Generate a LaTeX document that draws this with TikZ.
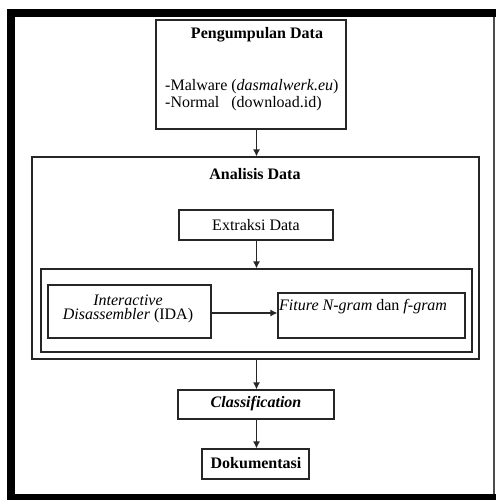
\documentclass[tikz,border=0pt]{standalone}
\usepackage{fontspec}
\setmainfont{Liberation Serif}
\usetikzlibrary{arrows.meta,calc}
\tikzset{
  box/.style={draw=black!85,line width=1.2pt,rectangle,inner sep=0pt},
  txt/.style={inner sep=0pt,font=\fontsize{16}{19}\selectfont,text=black},
  arr/.style={draw=black!85,line width=1.2pt,-{Latex[length=7pt,width=7pt]}},
}
\newcommand{\boxat}[6]{\node[box,minimum width=#4-#2,minimum height=#5-#3] (#1) at ({(#2+#4)/2},{(#3+#5)/2}) {#6};}
\begin{document}
\begin{tikzpicture}[x=1pt,y=-1pt]
\useasboundingbox (0,0) rectangle (496,500);
% outer frame
\fill[black] (7,9) rectangle (15,500);
\fill[black] (7,9) rectangle (496,17);
\fill[black] (7,494) rectangle (496,500);
\draw[black!70,line width=1.2pt] (494,17) -- (494,494);
% boxes
\boxat{pd}{156}{20}{346}{129}{}
\boxat{an}{32}{157}{479}{359}{}
\boxat{ex}{179}{210}{333}{240}{}
\boxat{inner}{41}{269}{472}{352}{}
\boxat{ida}{48}{285}{211}{338}{}
\boxat{fit}{278}{293}{465}{338}{}
\boxat{cl}{178}{390}{334}{419}{}
\boxat{dok}{202}{449}{309}{479}{}
% texts
\node[txt,font=\fontsize{16}{19}\selectfont\bfseries] (tpd) at (257,35) {Pengumpulan Data};
\node[txt,anchor=west] (tmal) at (165,87) {-Malware (\textit{dasmalwerk.eu})};
\node[txt,anchor=west] (tnor) at (165,104) {-Normal\ \ \ (download.id)};
\node[txt,font=\fontsize{16}{19}\selectfont\bfseries] (tan) at (255,174) {Analisis Data};
\node[txt] (tex) at (256,225) {Extraksi Data};
\node[txt] (tida1) at (128,300) {\textit{Interactive}};
\node[txt] (tida2) at (128,316) {\textit{Disassembler} (IDA)};
\node[txt,anchor=west] (tfit) at (279,307) {\textit{Fiture N-gram} dan \textit{f-gram}};
\node[txt,font=\fontsize{16}{19}\selectfont\bfseries\itshape] (tcl) at (256,404) {Classification};
\node[txt,font=\fontsize{16}{19}\selectfont\bfseries] (tdok) at (256,463) {Dokumentasi};
% arrows
\coordinate (ax) at (256.5,0);
\draw[arr] (pd.south -| ax) -- (an.north -| ax);
\draw[arr] (ex.south -| ax) -- (inner.north -| ax);
\draw[arr] (ida.east |- 0,313) -- (fit.west |- 0,313);
\draw[arr] (an.south -| ax) -- (cl.north -| ax);
\draw[arr] (cl.south -| ax) -- (dok.north -| ax);
\end{tikzpicture}
\end{document}
